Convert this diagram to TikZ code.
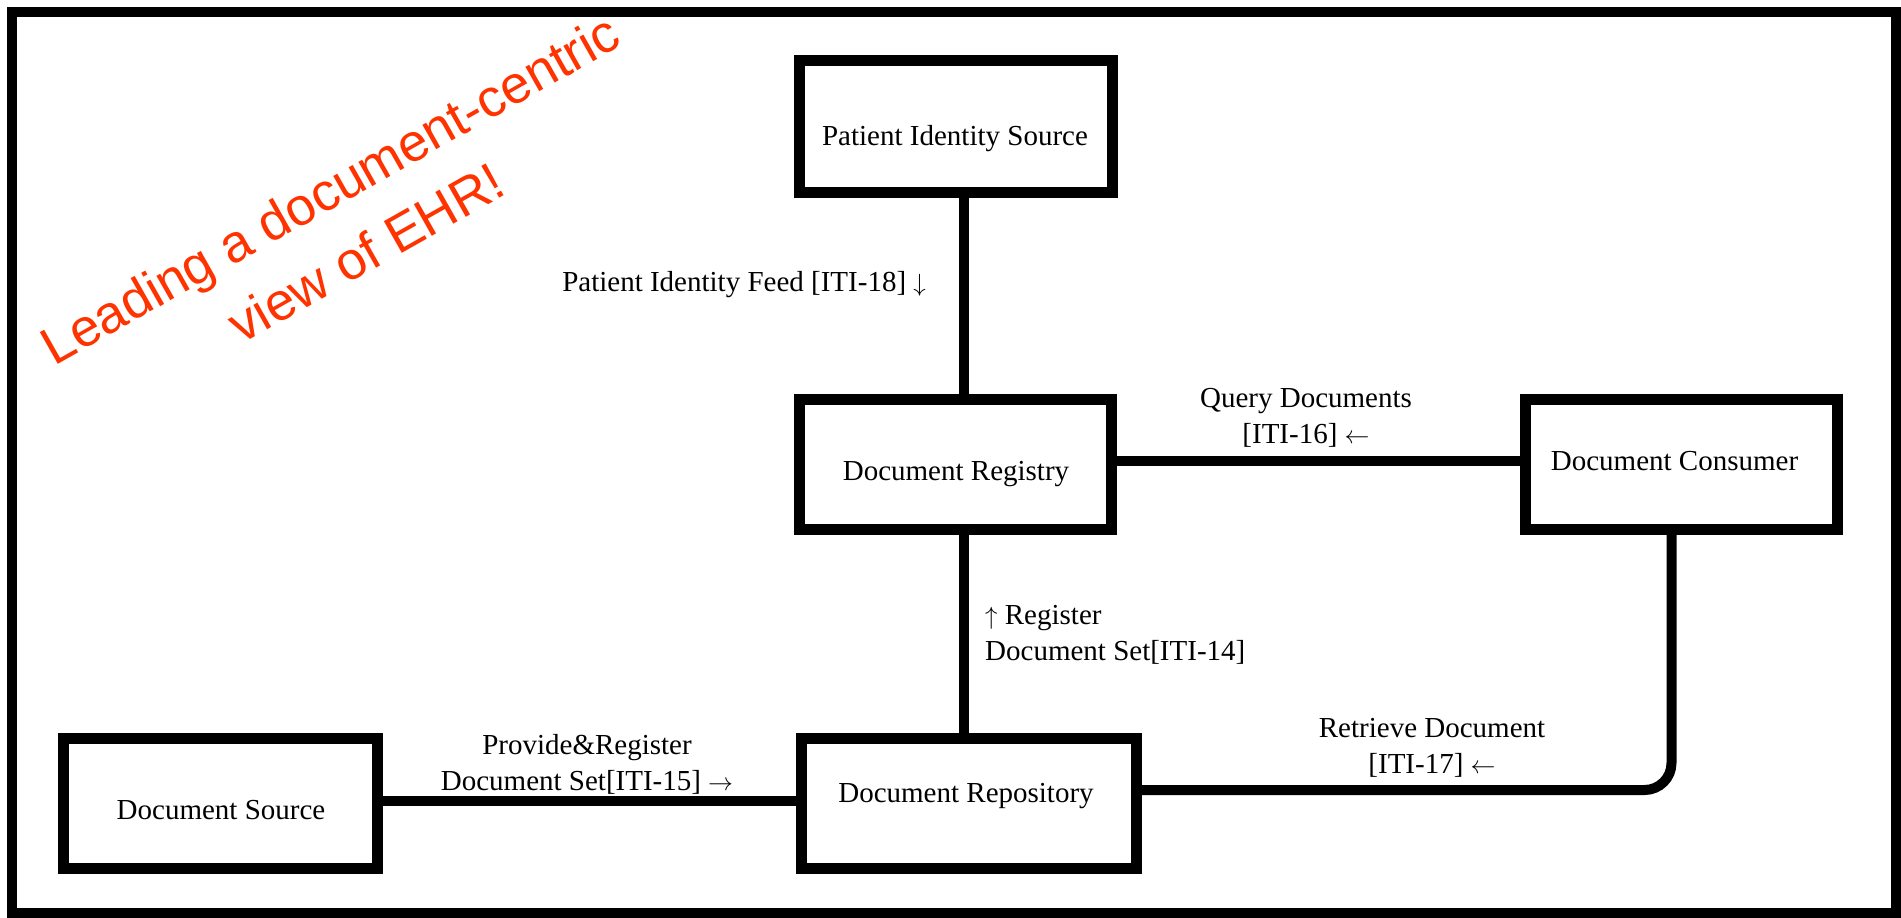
\documentclass[tikz,border=0pt]{standalone}
\usepackage{fontspec}
\setmainfont{Liberation Serif}
\newfontfamily\slogansans{Liberation Sans}
\definecolor{slogan}{RGB}{255,51,0}
% small thin arrows used inside the transaction labels
\newcommand\arr[1]{{\fontsize{25}{25}\selectfont$#1$}}

\begin{document}
\begin{tikzpicture}[x=1pt, y=-1pt,
  frame/.style={draw=black, line width=10pt},
  actor/.style={draw=black, line width=11pt, fill=white, inner sep=0pt,
    minimum width=#1, minimum height=130pt},
  conn/.style={draw=black, line width=10pt},
  lbl/.style={font=\fontsize{29}{36}\selectfont, inner sep=0pt},
  tx/.style={lbl, font=\fontsize{29}{35.5}\selectfont},
  slogantext/.style={font=\slogansans\fontsize{53}{73}\selectfont,
    text=slogan, rotate=29.5, anchor=base, align=center, inner sep=0pt}]

\useasboundingbox (0,0) rectangle (1901,918);

% outer frame
\draw[frame] (12,12) rectangle (1896,913);

% actors
\node[actor=313pt, minimum height=132pt] (pis)  at (956,126.5) {};
\node[actor=312pt] (reg)  at (955,464) {};
\node[actor=312pt] (cons) at (1681.5,464.5) {};
\node[actor=314pt] (src)  at (220.5,803) {};
\node[actor=335pt] (repo) at (969,803) {};

% actor names
\node[lbl, anchor=base] (pis-l)  at (955,145)    {Patient Identity Source};
\node[lbl, anchor=base] (reg-l)  at (956,480)    {Document Registry};
\node[lbl, anchor=base] (cons-l) at (1674.5,470) {Document Consumer};
\node[lbl, anchor=base] (src-l)  at (221,819)    {Document Source};
\node[lbl, anchor=base] (repo-l) at (966,802)    {Document Repository};

% transactions
\draw[conn] ([xshift=8pt]pis.south) -- ([xshift=9pt]reg.north);
\draw[conn] ([xshift=9pt]reg.south) -- ([xshift=-5pt]repo.north);
\draw[conn] ([yshift=3pt]reg.east) -- ([yshift=3.5pt]cons.west);
\draw[conn] ([yshift=2pt]src.east) -- ([yshift=2pt]repo.west);
\draw[conn, rounded corners=27pt] ([yshift=13pt]repo.east) -| ([xshift=-10pt]cons.south);

% transaction labels (base anchor = baseline of the last line)
\node[tx, anchor=base east] (feed-l) at (926,291)
  {Patient Identity Feed [ITI-18] \arr{\downarrow}};
\node[tx, anchor=base, align=center] (query-l) at (1306,443)
  {Query Documents\\{}[ITI-16] \arr{\leftarrow}};
\node[tx, anchor=base west, align=left] (regset-l) at (985,660)
  {\arr{\uparrow} Register\\Document Set[ITI-14]};
\node[tx, anchor=base, align=center] (prov-l) at (587,790)
  {Provide\&Register\\Document Set[ITI-15] \arr{\rightarrow}};
\node[tx, anchor=base, align=center] (retr-l) at (1432,773)
  {Retrieve Document\\{}[ITI-17] \arr{\leftarrow}};

% slogan
\node[slogantext] (slogan) at (375,269) {Leading a document-centric\\view of EHR!};
\end{tikzpicture}
\end{document}
